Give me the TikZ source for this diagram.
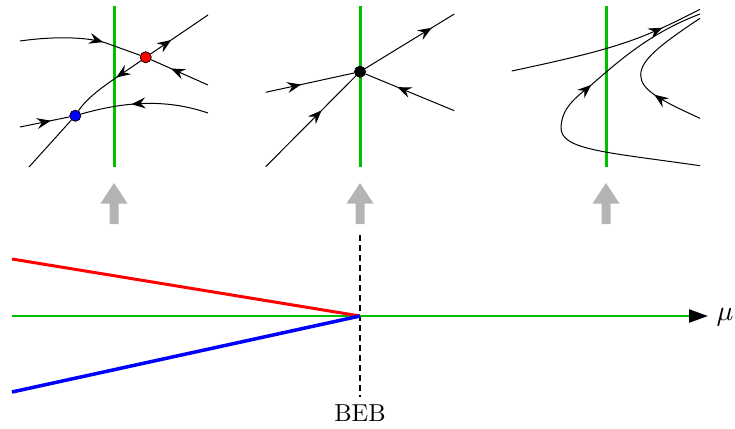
\documentclass[tikz,border=0pt]{standalone}
\usetikzlibrary{arrows.meta,decorations.markings}
\definecolor{grn}{RGB}{0,190,0}
\definecolor{arrgray}{RGB}{180,180,180}
\tikzset{
  flow/.style={postaction={decorate},decoration={markings,
    mark=at position #1 with {\arrow{Stealth[length=14pt,width=11pt,inset=5pt]}}}},
  orbit/.style={line width=1pt,black},
  sect/.style={line width=3pt,grn},
  dot/.style={circle,draw=black,line width=0.6pt,minimum size=11pt,inner sep=0pt},
  uparrow/.style={fill=arrgray,draw=none},
}
\begin{document}
\begin{tikzpicture}[x=1pt,y=-1pt]
\useasboundingbox (0,0) rectangle (735,428);

% ---------- panel 1 ----------
\coordinate (g1t) at (114,6); \coordinate (g1b) at (114,167);
\draw[sect] (g1t) -- (g1b);
\coordinate (p1a) at (20,41);
\coordinate (p1b) at (208,85);
\coordinate (p1c) at (208,15);
\coordinate (p1d) at (29,167);
\coordinate (p1e) at (20,127);
\coordinate (p1f) at (208,113);
\node[dot,fill=red] (r) at (145.7,57.3) {};
\node[dot,fill=blue] (b) at (75.3,115.7) {};
\draw[orbit,flow=0.68] (p1a) .. controls (55,36) and (88,37) .. (106,43) -- (r);
\draw[orbit,flow=0.65] (p1b) -- (r);
\draw[orbit,flow=0.36] (r) -- (p1c);
\draw[orbit,flow=0.37] (r) .. controls (118,77) and (90,93) .. (b);
\draw[orbit] (b) -- (p1d);
\draw[orbit,flow=0.62] (p1e) -- (b);
\draw[orbit,flow=0.6] (p1f) .. controls (170,100) and (130,100) .. (b);
\node[dot,fill=red] at (r) {};
\node[dot,fill=blue] at (b) {};

% ---------- panel 2 ----------
\coordinate (g2t) at (360,6); \coordinate (g2b) at (360,167);
\draw[sect] (g2t) -- (g2b);
\coordinate (q1) at (454.3,14);
\coordinate (q2) at (265.7,92.3);
\coordinate (q3) at (454.3,110.7);
\coordinate (q4) at (265.7,166.7);
\node[dot,fill=black] (k) at (360,71.7) {};
\draw[orbit,flow=0.75] (k) -- (q1);
\draw[orbit,flow=0.4] (q2) -- (k);
\draw[orbit,flow=0.64] (q3) -- (k);
\draw[orbit,flow=0.62] (q4) -- (k);
\node[dot,fill=black] at (k) {};

% ---------- panel 3 ----------
\coordinate (g3t) at (606,6); \coordinate (g3b) at (606,167);
\draw[sect] (g3t) -- (g3b);
\coordinate (s1) at (511.7,71);
\coordinate (s2) at (700,9.3);
\coordinate (s3) at (700,165.7);
\coordinate (s4) at (700,14);
\coordinate (s5) at (700,118.3);
\coordinate (s6) at (700,18.3);
\draw[orbit,flow=0.79] (s1) .. controls (620,48) and (640,40) .. (s2);
\draw[orbit,flow=0.61] (s3) .. controls (605,152) and (560,150) .. (561,127)
   .. controls (562,108) and (575,98) .. (590,86)
   .. controls (620,60) and (650,33) .. (s4);
\draw[orbit,flow=0.32] (s5) .. controls (660,100) and (640.7,90) .. (640.7,75)
   .. controls (640.7,60) and (660,45) .. (s6);

% ---------- gray arrows ----------
\foreach \cx in {114,360,606}{
  \fill[uparrow] (\cx-4.5,224) -- (\cx-4.5,203.5) -- (\cx-13.5,203.5) -- (\cx,183)
     -- (\cx+13.5,203.5) -- (\cx+4.5,203.5) -- (\cx+4.5,224) -- cycle;
}

% ---------- bifurcation diagram ----------
\coordinate (ax0) at (12,316);
\coordinate (ax1) at (708,316);
\coordinate (beb) at (360,316);
\coordinate (rl) at (12,259);
\coordinate (bl) at (12,392);
\coordinate (dt) at (360,235);
\coordinate (db) at (360,397);
\draw[line width=1.2pt,dash pattern=on 6pt off 4pt] (dt) -- (db);
\draw[line width=2.3pt,grn,-{Triangle[length=19pt,width=13pt,black]}] (ax0) -- (ax1);
\draw[line width=3pt,red] (rl) -- (beb);
\draw[line width=3.5pt,blue] (bl) -- (beb);
\node[anchor=base west,inner sep=0pt,scale=2.8] (mu) at (716,320.7) {$\mu$};
\node[anchor=base,inner sep=0pt,scale=2.45] (lbl) at (360,421.7) {BEB};
\end{tikzpicture}
\end{document}
